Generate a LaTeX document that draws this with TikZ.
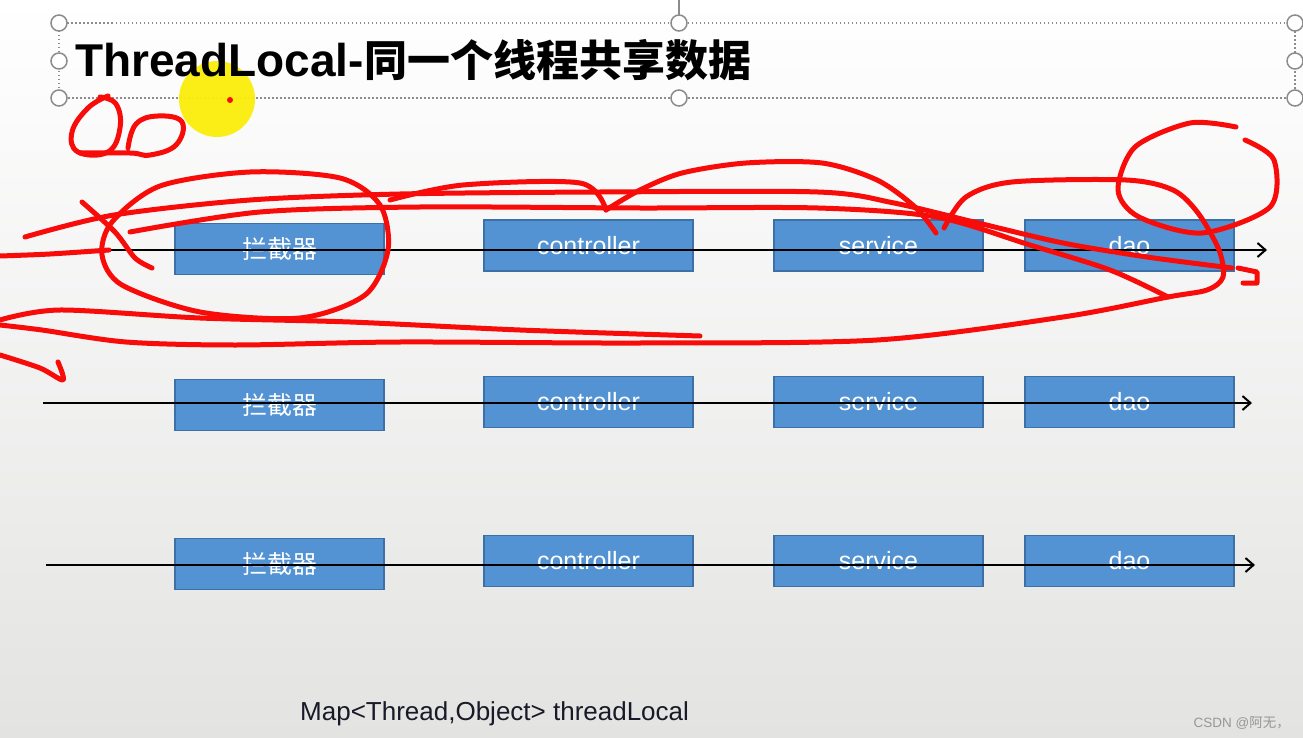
\documentclass[tikz,border=0pt]{standalone}
\usepackage{fontspec}
\setmainfont{Liberation Sans}
\newfontfamily\cjk{Noto Sans CJK SC}
\usetikzlibrary{arrows.meta}
\definecolor{boxblue}{RGB}{83,147,211}
\definecolor{boxedge}{RGB}{62,112,168}
\definecolor{handle}{RGB}{140,140,140}
\definecolor{ink}{RGB}{248,12,10}
\definecolor{pointer}{RGB}{250,238,10}
\tikzset{
  layer/.style={draw=boxedge,fill=boxblue,line width=1.2pt,minimum width=209pt,minimum height=51pt,
    inner sep=0pt,text=white,font=\fontsize{25}{25}\selectfont},
  flow/.style={-{Straight Barb[length=8pt,width=14pt]},line width=2pt},
  grip/.style={circle,draw=handle,fill=white,line width=1.5pt,minimum size=16pt,inner sep=0pt},
  pen/.style={draw=ink,line width=5pt,line cap=round,line join=round}
}
\begin{document}
\begin{tikzpicture}[x=1pt,y=-1pt]
      \useasboundingbox (0,0) rectangle (1303,738);
      \shade[top color=white,bottom color={rgb,255:red,227;green,228;blue,226}] (0,0) rectangle (1303,738);
      % title frame
      \draw[handle,line width=1.5pt,dash pattern=on 1.5pt off 2.5pt] (59,23) rectangle (1295,98);
      \draw[handle,line width=1.2pt] (679,0) -- (679,15);
      \node[grip] (h1) at (59,23) {};
      \node[grip] (h2) at (679,23) {};
      \node[grip] (h3) at (1295,23) {};
      \node[grip] (h4) at (59,61) {};
      \node[grip] (h5) at (1295,61) {};
      \node[grip] (h6) at (59,98) {};
      \node[grip] (h7) at (679,98) {};
      \node[grip] (h8) at (1295,98) {};
      \fill[pointer,opacity=0.95] (217,99) circle (38);
      \node[anchor=base west,inner sep=0pt,font=\fontsize{46}{46}\selectfont\bfseries] (title) at (75,77)
        {ThreadLocal-{\cjk\bfseries\fontsize{43}{46}\selectfont 同一个线程共享数据}};
      \fill[ink] (230,100) circle (3);
      % three threads
      \node[layer] (icpA) at (279.5,249) {\cjk 拦截器};
      \node[layer] (ctlA) at (588.5,245.5) {controller};
      \node[layer] (svcA) at (878.5,245.5) {service};
      \node[layer] (daoA) at (1129.5,245.5) {dao};
      \node[layer] (icpB) at (279.5,405) {\cjk 拦截器};
      \node[layer] (ctlB) at (588.5,402) {controller};
      \node[layer] (svcB) at (878.5,402) {service};
      \node[layer] (daoB) at (1129.5,402) {dao};
      \node[layer] (icpC) at (279.5,564) {\cjk 拦截器};
      \node[layer] (ctlC) at (588.5,561) {controller};
      \node[layer] (svcC) at (878.5,561) {service};
      \node[layer] (daoC) at (1129.5,561) {dao};
      \coordinate (sA) at (110,250);
      \coordinate (eA) at (1267,250);
      \coordinate (sB) at (43,403);
      \coordinate (eB) at (1252,403);
      \coordinate (sC) at (46,565);
      \coordinate (eC) at (1255,565);
      \draw[flow] (sA) -- (eA);
      \draw[flow] (sB) -- (eB);
      \draw[flow] (sC) -- (eC);
      \node[anchor=base west,inner sep=0pt,font=\fontsize{26}{26}\selectfont,text={rgb,255:red,25;green,25;blue,40}] (map) at (300,720)
        {Map<Thread,Object> threadLocal};
      \node[anchor=base east,inner sep=0pt,font=\fontsize{13.5}{14}\selectfont,text={rgb,255:red,150;green,150;blue,150}] (mark) at (1290,727)
        {CSDN @{\cjk 阿无，}};
      % red pen marks
      \draw[pen] plot[smooth,tension=0.7] coordinates {(108,96) (88,108) (72,132) (78,152) (108,152) (120,128) (116,104) (100,97)};
      \draw[pen] plot[smooth,tension=0.7] coordinates {(80,153) (130,153) (150,155) (176,145) (182,122) (158,116) (136,124) (128,148)};
      \draw[pen] plot[smooth cycle] coordinates {(112,222) (160,186) (250,172) (340,178) (380,205) (388,250) (365,295) (300,318) (200,312) (122,285) (102,255)};
      \draw[pen] plot[smooth] coordinates {(25,237) (114,215) (250,200) (400,194) (600,192) (818,192) (894,203) (978,223) (1063,243) (1147,257) (1232,268)};
      \draw[pen] plot[smooth] coordinates {(130,232) (260,212) (420,207) (640,208) (818,208) (936,217) (1030,245) (1110,270) (1168,297)};
      \draw[pen] plot[smooth] coordinates {(0,256) (50,254) (109,250)};
      \draw[pen] plot[smooth] coordinates {(82,202) (115,232) (135,258) (152,268)};
      \draw[pen] plot[smooth] coordinates {(390,200) (463,185) (580,183) (606,210)};
      \draw[pen] plot[smooth] coordinates {(606,210) (640,190) (682,173) (746,163) (822,163) (877,180) (915,207) (936,233)};
      \draw[pen] plot[smooth] coordinates {(944,228) (966,197) (1012,182) (1126,180) (1173,190) (1198,213) (1219,250) (1223,277) (1207,290) (1168,297) (1063,317) (877,340) (640,343) (400,342) (236,345) (126,342) (42,330) (0,325)};
      \draw[pen] plot[smooth] coordinates {(0,320) (60,310) (200,318) (350,322) (520,330) (700,336)};
      \draw[pen] plot[smooth] coordinates {(0,355) (40,368) (63,380) (58,362)};
      \draw[pen] plot[smooth] coordinates {(1236,127) (1190,123) (1135,147) (1118,190) (1139,217) (1202,233) (1270,207) (1274,160) (1245,140)};
      \draw[pen] plot coordinates {(1238,268) (1257,272) (1257,283) (1243,283)};
\end{tikzpicture}
\end{document}
